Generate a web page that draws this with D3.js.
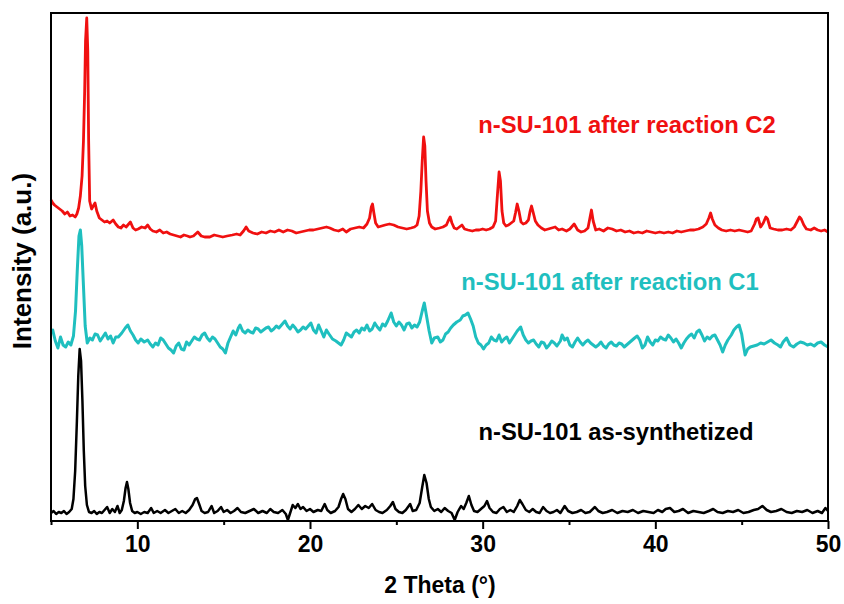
<!DOCTYPE html>
<html>
<head>
<meta charset="utf-8">
<script src="https://cdn.jsdelivr.net/npm/d3@7"></script>
<style>
  body { margin: 0; background: #fff; }
  svg { display: block; font-family: Arial, "Liberation Sans", sans-serif; }
</style>
</head>
<body>
<svg id="xrd" width="844" height="604"></svg>
<script>
// 2 theta (deg), intensity (a.u.)
var asSynth = [
  [5.0,8],[5.15,10],[5.3,7],[5.45,9],[5.6,8],[5.75,10],[5.9,7],[6.05,9],[6.2,12],[6.3,22],[6.4,50],[6.5,100],[6.58,145],[6.66,172],[6.74,160],[6.82,120],[6.9,70],[6.98,35],[7.08,16],[7.2,9],[7.35,8],[7.5,10],[7.65,7],[7.8,9],[7.95,8],[8.1,11],[8.25,14],[8.4,8],[8.55,12],[8.7,9],[8.85,15],[8.98,8],[9.1,11],[9.22,20],[9.32,33],[9.4,39],[9.48,32],[9.58,18],[9.7,10],[9.85,8],[10.0,9],[10.2,7],[10.4,9],[10.6,8],[10.8,13],[10.95,8],[11.15,10],[11.35,8],[11.6,11],[11.8,8],[12.0,10],[12.2,12],[12.4,8],[12.6,10],[12.8,8],[13.0,11],[13.2,16],[13.35,22],[13.45,23],[13.58,17],[13.72,10],[13.9,8],[14.1,9],[14.3,15],[14.45,8],[14.65,10],[14.85,14],[15.0,9],[15.2,11],[15.4,8],[15.6,10],[15.8,13],[16.0,9],[16.25,8],[16.5,10],[16.75,12],[17.0,8],[17.25,10],[17.5,8],[17.7,12],[17.9,9],[18.15,8],[18.4,11],[18.6,7],[18.72,1],[18.85,8],[19.0,16],[19.15,13],[19.3,17],[19.45,12],[19.6,14],[19.8,10],[20.0,12],[20.2,9],[20.45,11],[20.65,10],[20.85,17],[21.0,11],[21.2,8],[21.45,10],[21.65,14],[21.8,22],[21.92,27],[22.05,22],[22.2,12],[22.4,9],[22.6,12],[22.8,16],[23.0,12],[23.2,15],[23.4,13],[23.6,17],[23.8,11],[24.0,9],[24.2,8],[24.45,11],[24.65,15],[24.8,19],[24.95,12],[25.15,9],[25.35,8],[25.55,11],[25.8,17],[25.95,10],[26.15,11],[26.35,18],[26.5,34],[26.62,46],[26.75,38],[26.88,22],[27.0,14],[27.2,10],[27.4,12],[27.6,9],[27.8,13],[28.0,10],[28.2,8],[28.38,1],[28.55,9],[28.75,15],[28.9,12],[29.05,18],[29.2,25],[29.35,16],[29.5,10],[29.7,9],[29.9,12],[30.1,15],[30.25,20],[30.4,13],[30.6,9],[30.8,8],[31.0,12],[31.2,14],[31.4,9],[31.6,11],[31.8,9],[32.0,15],[32.15,21],[32.3,17],[32.5,11],[32.7,9],[32.9,12],[33.1,9],[33.3,8],[33.5,14],[33.7,10],[33.9,8],[34.1,9],[34.3,11],[34.5,8],[34.75,15],[34.95,10],[35.2,8],[35.45,9],[35.7,11],[35.95,8],[36.2,9],[36.5,14],[36.7,10],[36.95,8],[37.2,9],[37.5,11],[37.8,8],[38.1,10],[38.4,9],[38.7,11],[39.0,8],[39.3,10],[39.6,9],[39.9,8],[40.15,11],[40.4,9],[40.6,12],[40.85,13],[41.1,9],[41.35,10],[41.6,12],[41.9,8],[42.2,10],[42.5,9],[42.8,8],[43.1,10],[43.35,12],[43.6,9],[43.9,8],[44.2,10],[44.5,9],[44.8,11],[45.1,8],[45.4,9],[45.7,11],[45.95,12],[46.2,15],[46.45,11],[46.7,9],[47.0,10],[47.3,12],[47.6,9],[47.9,8],[48.2,10],[48.5,9],[48.8,11],[49.1,8],[49.4,10],[49.65,8],[49.85,13],[50.0,10]
];

var afterC1 = [
  [5.0,189],[5.1,191],[5.25,180],[5.4,173],[5.55,184],[5.7,176],[5.85,174],[6.0,179],[6.15,176],[6.3,185],[6.42,210],[6.52,250],[6.62,285],[6.7,291],[6.78,275],[6.88,235],[6.98,195],[7.1,178],[7.25,183],[7.4,181],[7.55,187],[7.7,186],[7.85,180],[8.0,184],[8.15,188],[8.3,182],[8.45,185],[8.6,178],[8.75,184],[8.9,184],[9.1,188],[9.3,193],[9.45,196],[9.6,190],[9.75,186],[9.9,181],[10.05,178],[10.2,182],[10.4,179],[10.6,181],[10.75,177],[10.9,174],[11.05,178],[11.2,176],[11.35,183],[11.5,181],[11.65,177],[11.8,173],[11.95,171],[12.1,168],[12.25,175],[12.4,178],[12.55,172],[12.7,171],[12.85,179],[13.0,176],[13.15,180],[13.3,184],[13.45,182],[13.6,181],[13.75,186],[13.9,188],[14.05,183],[14.2,180],[14.35,184],[14.5,182],[14.65,178],[14.8,174],[14.95,172],[15.1,168],[15.25,178],[15.4,184],[15.55,190],[15.7,186],[15.85,193],[15.95,196],[16.1,190],[16.25,188],[16.4,191],[16.55,189],[16.7,188],[16.85,193],[17.0,192],[17.15,189],[17.3,191],[17.45,193],[17.6,194],[17.75,190],[17.9,192],[18.05,195],[18.2,193],[18.4,197],[18.55,200],[18.7,195],[18.85,192],[19.0,196],[19.15,193],[19.3,189],[19.45,191],[19.6,194],[19.75,192],[19.9,195],[20.05,198],[20.2,191],[20.35,188],[20.5,196],[20.65,190],[20.8,184],[20.95,191],[21.1,187],[21.3,182],[21.5,180],[21.65,178],[21.8,176],[21.95,181],[22.1,188],[22.25,186],[22.4,184],[22.55,189],[22.7,191],[22.85,188],[23.0,193],[23.15,191],[23.3,196],[23.45,190],[23.6,192],[23.75,198],[23.9,194],[24.05,191],[24.2,197],[24.35,195],[24.5,200],[24.7,208],[24.85,199],[25.0,195],[25.15,199],[25.3,196],[25.45,191],[25.6,197],[25.75,198],[25.9,193],[26.05,196],[26.2,194],[26.35,199],[26.5,210],[26.62,218],[26.75,205],[26.9,190],[27.05,178],[27.2,183],[27.4,184],[27.55,179],[27.7,181],[27.85,187],[28.0,189],[28.15,193],[28.3,196],[28.5,199],[28.7,201],[28.85,205],[29.0,206],[29.15,208],[29.3,202],[29.45,195],[29.6,184],[29.75,178],[29.9,176],[30.05,172],[30.2,176],[30.35,178],[30.5,184],[30.65,181],[30.8,180],[30.95,186],[31.1,179],[31.25,182],[31.4,184],[31.55,178],[31.7,182],[31.85,186],[32.0,190],[32.2,194],[32.35,186],[32.5,181],[32.65,178],[32.8,180],[32.95,181],[33.1,177],[33.25,174],[33.4,179],[33.55,178],[33.7,173],[33.85,176],[34.0,180],[34.15,178],[34.3,175],[34.5,180],[34.6,186],[34.75,181],[34.9,183],[35.05,176],[35.2,174],[35.35,179],[35.5,183],[35.65,179],[35.8,176],[35.95,179],[36.1,181],[36.25,178],[36.4,176],[36.55,174],[36.7,176],[36.85,179],[37.0,175],[37.15,173],[37.3,177],[37.45,179],[37.6,176],[37.75,175],[37.9,178],[38.05,177],[38.2,174],[38.4,177],[38.6,180],[38.8,183],[38.95,185],[39.1,181],[39.25,173],[39.4,176],[39.55,184],[39.7,179],[39.85,176],[40.0,181],[40.15,180],[40.3,184],[40.45,182],[40.6,181],[40.75,186],[40.9,183],[41.05,179],[41.2,182],[41.35,178],[41.5,173],[41.65,178],[41.8,182],[41.95,185],[42.1,187],[42.25,183],[42.4,189],[42.55,191],[42.7,186],[42.85,180],[43.0,184],[43.15,182],[43.3,185],[43.45,186],[43.6,181],[43.75,176],[43.9,169],[44.05,176],[44.2,181],[44.4,186],[44.55,191],[44.7,194],[44.85,196],[45.0,187],[45.1,176],[45.2,166],[45.35,172],[45.5,174],[45.7,175],[45.9,176],[46.1,178],[46.3,177],[46.5,179],[46.7,181],[46.9,178],[47.1,176],[47.25,174],[47.4,179],[47.6,183],[47.8,176],[48.0,174],[48.2,177],[48.4,179],[48.6,178],[48.8,176],[49.0,177],[49.2,175],[49.4,178],[49.6,179],[49.8,176],[50.0,174]
];

var afterC2 = [
  [5.0,321],[5.1,318],[5.2,316],[5.35,314],[5.5,312],[5.65,310],[5.8,307],[5.95,309],[6.1,305],[6.25,306],[6.4,304],[6.5,307],[6.6,313],[6.7,325],[6.8,345],[6.88,380],[6.95,430],[7.0,480],[7.07,503],[7.13,470],[7.18,380],[7.24,320],[7.35,312],[7.48,316],[7.55,318],[7.65,310],[7.8,303],[7.95,301],[8.1,299],[8.25,300],[8.4,298],[8.6,301],[8.75,297],[8.9,294],[9.05,293],[9.2,296],[9.35,294],[9.5,297],[9.6,299],[9.75,293],[9.9,291],[10.05,292],[10.25,294],[10.45,293],[10.6,296],[10.75,292],[10.9,290],[11.1,289],[11.3,291],[11.5,288],[11.7,289],[11.9,287],[12.1,286],[12.3,285],[12.5,284],[12.7,286],[12.9,285],[13.05,284],[13.25,285],[13.5,289],[13.7,285],[13.9,284],[14.2,284],[14.45,286],[14.7,285],[14.95,284],[15.2,285],[15.5,286],[15.75,287],[15.95,286],[16.15,290],[16.3,294],[16.45,290],[16.7,288],[16.95,287],[17.2,289],[17.45,288],[17.7,290],[17.95,289],[18.2,291],[18.45,289],[18.7,291],[18.95,290],[19.2,288],[19.45,289],[19.7,290],[19.95,291],[20.2,291],[20.45,292],[20.7,293],[20.95,294],[21.15,293],[21.4,291],[21.65,290],[21.9,292],[22.1,289],[22.35,292],[22.6,293],[22.85,294],[23.1,293],[23.3,297],[23.45,303],[23.55,314],[23.62,317],[23.7,308],[23.8,298],[23.95,294],[24.15,295],[24.35,296],[24.6,297],[24.85,296],[25.1,294],[25.35,293],[25.6,292],[25.85,293],[26.05,294],[26.2,296],[26.32,305],[26.42,330],[26.5,360],[26.58,384],[26.65,375],[26.72,340],[26.8,310],[26.92,298],[27.05,294],[27.25,292],[27.5,293],[27.7,294],[27.9,296],[28.0,300],[28.12,304],[28.22,298],[28.35,293],[28.5,292],[28.65,294],[28.8,296],[28.95,292],[29.15,291],[29.4,290],[29.6,291],[29.8,291],[30.0,292],[30.2,291],[30.4,292],[30.6,294],[30.75,300],[30.85,325],[30.95,349],[31.03,340],[31.12,310],[31.22,298],[31.35,295],[31.5,296],[31.65,298],[31.8,300],[31.9,308],[32.0,317],[32.1,310],[32.22,299],[32.35,297],[32.5,298],[32.65,301],[32.75,310],[32.83,315],[32.92,309],[33.05,300],[33.2,296],[33.4,293],[33.6,291],[33.8,292],[34.0,293],[34.2,294],[34.4,291],[34.6,292],[34.85,290],[35.05,292],[35.3,297],[35.5,291],[35.7,289],[35.9,290],[36.1,293],[36.2,302],[36.3,311],[36.4,300],[36.55,291],[36.75,292],[37.0,290],[37.25,293],[37.5,292],[37.75,290],[38.0,291],[38.25,289],[38.5,290],[38.75,288],[39.0,289],[39.25,288],[39.5,290],[39.75,289],[40.0,288],[40.25,289],[40.5,288],[40.75,289],[41.0,288],[41.25,290],[41.5,289],[41.75,290],[42.0,291],[42.25,291],[42.5,292],[42.75,294],[42.95,297],[43.1,303],[43.2,308],[43.3,302],[43.45,296],[43.65,293],[43.85,291],[44.1,290],[44.35,291],[44.6,290],[44.85,291],[45.1,290],[45.35,289],[45.55,290],[45.75,297],[45.85,302],[45.95,303],[46.1,294],[46.25,298],[46.4,304],[46.5,302],[46.65,293],[46.85,292],[47.1,291],[47.35,291],[47.6,292],[47.85,291],[48.05,294],[48.2,299],[48.35,304],[48.45,302],[48.6,296],[48.75,292],[49.0,291],[49.2,293],[49.4,291],[49.6,290],[49.8,291],[50.0,289]
];

var seriesNames = ["n-SU-101 as-synthetized", "n-SU-101 after reaction C1", "n-SU-101 after reaction C2"];
var seriesColors = ["#000000", "#1fbfbf", "#f01010"];
var majorTicks = [10, 20, 30, 40, 50];
var minorTicks = [5, 15, 25, 35, 45];

var svg = d3.select("#xrd");
var plotL = 51, plotR = 828, plotT = 13, plotB = 521;

var x = d3.scaleLinear().domain([5, 50]).range([plotL, plotR]);
var y = d3.scaleLinear().domain([0, 508]).range([plotB, plotT]);

var line = d3.line()
    .x(function (d) { return x(d[0]); })
    .y(function (d) { return y(d[1]); });

// traces
var all = [asSynth, afterC1, afterC2];
var widths = [2.5, 3, 2.8];
all.forEach(function (s, i) {
    svg.append("path")
        .datum(s)
        .attr("fill", "none")
        .attr("stroke", seriesColors[i])
        .attr("stroke-width", widths[i])
        .attr("stroke-linejoin", "round")
        .attr("d", line);
});

// frame
svg.append("rect")
    .attr("x", plotL).attr("y", plotT)
    .attr("width", plotR - plotL).attr("height", plotB - plotT)
    .attr("fill", "none")
    .attr("stroke", "#000")
    .attr("stroke-width", 2);

// x axis, major + minor
var gx = svg.append("g")
    .attr("transform", "translate(0," + plotB + ")")
    .call(d3.axisBottom(x).tickValues(majorTicks).tickSize(8).tickPadding(7).tickFormat(d3.format("d")));
gx.select(".domain").remove();
gx.selectAll(".tick line").attr("stroke", "#000").attr("stroke-width", 2);
gx.selectAll(".tick text")
    .attr("font-family", "Arial, 'Liberation Sans', sans-serif")
    .attr("font-size", "23px")
    .attr("font-weight", "bold")
    .attr("fill", "#000");

var gm = svg.append("g")
    .attr("transform", "translate(0," + plotB + ")")
    .call(d3.axisBottom(x).tickValues(minorTicks).tickSize(4).tickFormat(""));
gm.select(".domain").remove();
gm.selectAll(".tick line").attr("stroke", "#000").attr("stroke-width", 2);

// axis titles
svg.append("text")
    .attr("x", 440)
    .attr("y", 593)
    .attr("text-anchor", "middle")
    .attr("font-size", "23px")
    .attr("font-weight", "bold")
    .text("2 Theta (\u00b0)");

svg.append("text")
    .attr("transform", "translate(31,261) rotate(-90)")
    .attr("text-anchor", "middle")
    .attr("font-size", "26px")
    .attr("font-weight", "bold")
    .text("Intensity (a.u.)");

// series labels
var labelPos = [[616, 440], [610, 290], [627, 133]];
seriesNames.forEach(function (name, i) {
    svg.append("text")
        .attr("x", labelPos[i][0])
        .attr("y", labelPos[i][1])
        .attr("text-anchor", "middle")
        .attr("font-size", "23.8px")
        .attr("font-weight", "bold")
        .attr("fill", seriesColors[i])
        .text(name);
});
</script>
</body>
</html>
